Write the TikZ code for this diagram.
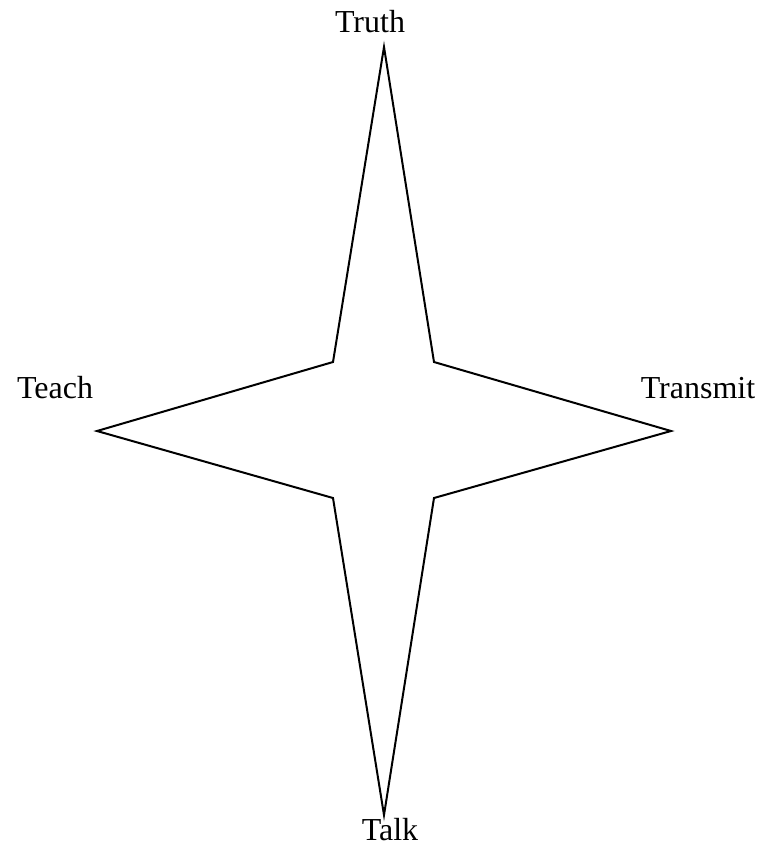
\documentclass[tikz,border=0pt]{standalone}
\usepackage{fontspec}
\setmainfont{Liberation Serif}
\usetikzlibrary{positioning}

\begin{document}
\begin{tikzpicture}[x=0.75pt,y=-0.75pt]
    \tikzset{lbl/.style={font=\fontsize{24}{28}\selectfont,inner sep=0pt,anchor=base},
      star/.style={draw=black,line width=1.5pt,line join=miter}}
    \useasboundingbox (0,0) rectangle (764,851);
    % star tips and inner corners
    \coordinate (top) at (384,47);
    \coordinate (right) at (671,431);
    \coordinate (bottom) at (384,815);
    \coordinate (left) at (97,431);
    \coordinate (tr) at (434,362);
    \coordinate (br) at (434,498);
    \coordinate (bl) at (333,498);
    \coordinate (tl) at (333,362);
    \draw[star] (top) -- (tr) -- (right) -- (br) -- (bottom) -- (bl) -- (left) -- (tl) -- cycle;
    % labels
    \node[lbl] (truth) at (370,32) {Truth};
    \node[lbl] (teach) at (55,398) {Teach};
    \node[lbl] (transmit) at (698,398) {Transmit};
    \node[lbl] (talk) at (390,840) {Talk};
  \end{tikzpicture}
\end{document}
